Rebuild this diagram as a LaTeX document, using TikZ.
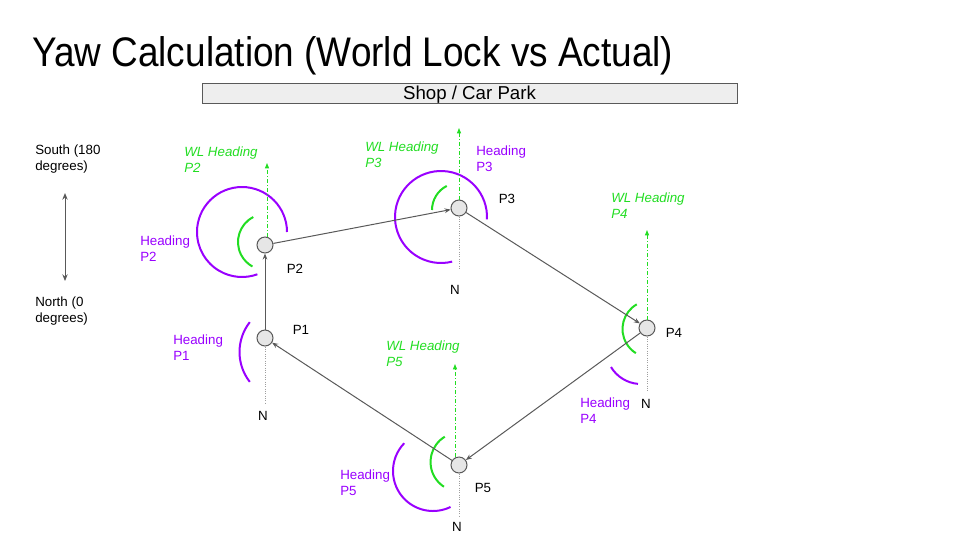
\documentclass[tikz,border=0pt]{standalone}
\usepackage{fontspec}
\setmainfont{Liberation Sans}
\usetikzlibrary{arrows.meta}
\definecolor{lineg}{HTML}{595959}
\definecolor{purp}{HTML}{9900FF}
\definecolor{grn}{HTML}{22DD22}
\definecolor{dotg}{HTML}{9E9E9E}
\definecolor{barfill}{HTML}{EEEEEE}
\definecolor{ptfill}{HTML}{E6E6E6}
\begin{document}
\begin{tikzpicture}[x=0.75pt,y=0.75pt,
  ptnode/.style={circle, draw=lineg, fill=ptfill, line width=0.75pt, minimum size=12pt, inner sep=0},
  conn/.style={draw=lineg, line width=0.75pt, -{Stealth[length=4.5pt,width=3.5pt]}},
  wl/.style={draw=grn, line width=0.75pt, dash pattern=on 3pt off 1.5pt on 0.75pt off 1.5pt, -{Triangle[length=4pt,width=3pt]}},
  northline/.style={draw=dotg, line width=0.75pt, densely dotted},
  hdg/.style={draw=purp, line width=1.5pt},
  wlarc/.style={draw=grn, line width=1.5pt},
  lbl/.style={font=\fontsize{10}{12}\selectfont, inner sep=0, align=left, anchor=west},
  wltext/.style={lbl, text=grn, font=\fontsize{10}{12}\selectfont\itshape},
  hdtext/.style={lbl, text=purp},
  ptlbl/.style={font=\fontsize{10}{12}\selectfont, inner sep=0}
]
\useasboundingbox (0,0) rectangle (960,-540);

% title and bar
\node[anchor=base west, inner sep=0, font=\fontsize{27.7}{33}\selectfont] (title) at (32,-66) {\scalebox{1}[1.12]{Yaw Calculation (World Lock vs Actual)}};
\node[draw=lineg, fill=barfill, line width=0.75pt, minimum width=401.25pt, minimum height=15pt, inner sep=0, text height=10pt, text depth=1pt, font=\fontsize{14}{16}\selectfont] (bar) at (469.5,-93) {Shop / Car Park};

% legend
\node[lbl] (south) at (35,-159) {South (180\\degrees)};
\node[lbl] (northt) at (35,-311) {North (0\\degrees)};
\coordinate (ls) at (65,-193);
\coordinate (ln) at (65,-281);
\draw[draw=lineg, line width=0.75pt, {Stealth[length=5pt,width=4pt]}-{Stealth[length=5pt,width=4pt]}] (ls) -- (ln);

% arcs (drawn first, under the points)
\draw[hdg] (242,-232) ++(0:45) arc[start angle=0, end angle=290, radius=45];
\draw[wlarc] (266,-242) ++(117:28) arc[start angle=117, end angle=241, radius=28];
\draw[hdg] (441,-217) ++(-3:46) arc[start angle=-3, end angle=284, radius=46];
\draw[wlarc] (459,-210) ++(117:27) arc[start angle=117, end angle=180, radius=27];
\draw[wlarc] (651,-329) ++(120:28.5) arc[start angle=120, end angle=238, radius=28.5];
\draw[hdg] (641,-349) ++(211:35) arc[start angle=211, end angle=265, radius=35];
\draw[hdg] (288,-352) ++(142:48.5) arc[start angle=142, end angle=218, radius=48.5];
\draw[hdg] (433,-471) ++(136:40) arc[start angle=136, end angle=296, radius=40];
\draw[wlarc] (460,-462) ++(121:29.5) arc[start angle=121, end angle=237, radius=29.5];

% points
\node[ptnode] (P1) at (265,-338) {};
\node[ptnode] (P2) at (265,-245) {};
\node[ptnode] (P3) at (459,-208) {};
\node[ptnode] (P4) at (647,-328) {};
\node[ptnode] (P5) at (459,-465) {};

% path connectors
\draw[conn] (P1) -- (P2);
\draw[conn] (P2) -- (P3);
\draw[conn] (P3) -- (P4);
\draw[conn] (P4) -- (P5);
\draw[conn] (P5) -- (P1);

% world-lock heading lines
\coordinate (w2) at (267,-163);
\coordinate (w3) at (459,-128);
\coordinate (w4) at (647,-230);
\coordinate (w5) at (455,-364);
\draw[wl] (P2.north -| w2) -- (w2);
\draw[wl] (P3.north -| w3) -- (w3);
\draw[wl] (P4.north -| w4) -- (w4);
\draw[wl] (P5.north -| w5) -- (w5);

% north lines
\coordinate (n1) at (265,-404);
\coordinate (n3) at (459,-268);
\coordinate (n4) at (647,-392);
\coordinate (n5) at (459,-516);
\draw[northline] (P1.south) -- (n1);
\draw[northline] (P3.south) -- (n3);
\draw[northline] (P4.south) -- (n4);
\draw[northline] (P5.south) -- (n5);

% labels
\node[ptlbl] (N1) at (263,-416) {N};
\node[ptlbl] (N3) at (455,-290) {N};
\node[ptlbl] (N4) at (646,-404) {N};
\node[ptlbl] (N5) at (457,-527) {N};

\node[ptlbl] (L1) at (301,-330) {P1};
\node[ptlbl] (L2) at (295,-269) {P2};
\node[ptlbl] (L3) at (507,-199) {P3};
\node[ptlbl] (L4) at (674,-333) {P4};
\node[ptlbl] (L5) at (483,-488) {P5};

\node[wltext] (WL2) at (184,-160) {WL Heading\\P2};
\node[wltext] (WL3) at (365,-155) {WL Heading\\P3};
\node[wltext] (WL4) at (611,-206) {WL Heading\\P4};
\node[wltext] (WL5) at (386,-354) {WL Heading\\P5};

\node[hdtext] (H1) at (173,-348) {Heading\\P1};
\node[hdtext] (H2) at (140,-249) {Heading\\P2};
\node[hdtext] (H3) at (476,-159) {Heading\\P3};
\node[hdtext] (H4) at (580,-411) {Heading\\P4};
\node[hdtext] (H5) at (340,-483) {Heading\\P5};
\end{tikzpicture}
\end{document}
